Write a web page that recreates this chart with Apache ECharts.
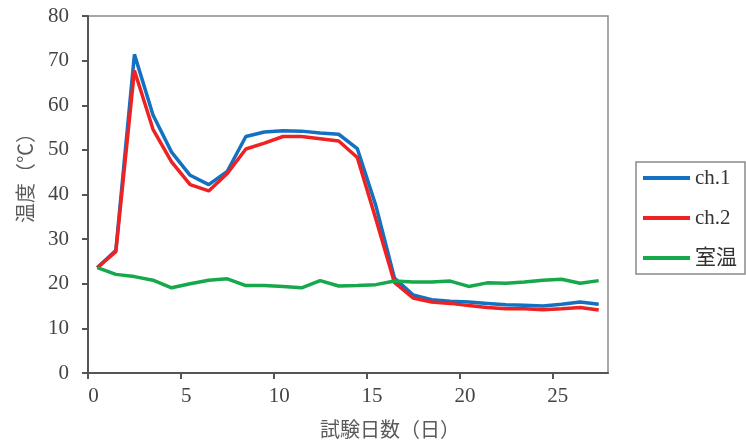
<!DOCTYPE html>
<html>
<head>
<meta charset="utf-8">
<script src="https://cdn.jsdelivr.net/npm/echarts@6/dist/echarts.min.js"></script>
<style>
html,body{margin:0;padding:0;background:#fff;}
#chart{width:746px;height:446px;}
</style>
</head>
<body>
<div id="chart"></div>
<script>
const days = [0.5,1.5,2.5,3.5,4.5,5.5,6.5,7.5,8.5,9.5,10.5,11.5,12.5,13.5,14.5,15.5,16.5,17.5,18.5,19.5,20.5,21.5,22.5,23.5,24.5,25.5,26.5,27.5];
const ch1 = [23.6,27.5,71.4,57.8,49.5,44.3,42.2,45.2,53.0,54.0,54.3,54.2,53.8,53.5,50.3,37.5,21.3,17.5,16.4,16.1,15.9,15.6,15.3,15.2,15.0,15.4,15.9,15.4];
const ch2 = [23.6,27.2,67.8,54.6,47.3,42.2,40.8,44.7,50.2,51.5,53.0,53.0,52.5,52.0,48.3,34.5,20.3,16.8,15.9,15.6,15.1,14.7,14.4,14.4,14.2,14.4,14.7,14.1];
const room = [23.6,22.1,21.6,20.8,19.1,20.0,20.8,21.1,19.6,19.6,19.4,19.1,20.7,19.5,19.6,19.8,20.6,20.4,20.4,20.6,19.4,20.2,20.1,20.4,20.8,21.0,20.1,20.7];
const seriesNames = ['ch.1','ch.2','室温'];
const xTitle = '試験日数（日）';
const yTitle = '温度（℃）';

const pair = arr => arr.map((v,i)=>[days[i], v]);
const colors = ['#1470c0','#ee2222','#16a84a'];
const serif = "'Liberation Serif','Noto Sans CJK JP',serif";
const cjk = "'Noto Sans CJK JP',sans-serif";

const chart = echarts.init(document.getElementById('chart'), null, {renderer:'canvas'});
chart.setOption({
  animation:false,
  color: colors,
  grid:{left:88,right:138,top:16,bottom:73,show:true,borderColor:'#8a8a8a',borderWidth:1.5,backgroundColor:'transparent'},
  legend:{
    orient:'vertical',left:636,top:162,
    data:seriesNames,
    icon:'rect',itemWidth:47,itemHeight:4,itemGap:18,
    padding:[5,8,5,7],
    borderColor:'#8a8a8a',borderWidth:1.5,
    textStyle:{fontFamily:serif,fontSize:21,color:'#333',lineHeight:22}
  },
  xAxis:{
    type:'value',min:0,max:28,interval:5,
    name:xTitle,nameLocation:'middle',nameGap:46,
    nameTextStyle:{fontFamily:cjk,fontSize:20,color:'#5a5a5a',padding:[0,0,0,84]},
    axisLine:{show:true,lineStyle:{color:'#555',width:2}},
    axisTick:{show:true,inside:false,length:6,lineStyle:{color:'#555',width:2}},
    axisLabel:{fontFamily:serif,fontSize:21,color:'#444',margin:13,showMaxLabel:false,padding:[0,0,0,11]},
    splitLine:{show:false}
  },
  yAxis:{
    type:'value',min:0,max:80,interval:10,
    name:yTitle,nameLocation:'middle',nameGap:53,
    nameTextStyle:{fontFamily:cjk,fontSize:20,color:'#5a5a5a',padding:[0,0,0,43]},
    axisLine:{show:true,lineStyle:{color:'#555',width:2}},
    axisTick:{show:true,inside:false,length:6,lineStyle:{color:'#555',width:2}},
    axisLabel:{fontFamily:serif,fontSize:21,color:'#444',margin:19},
    splitLine:{show:false}
  },
  series:[
    {name:seriesNames[0],type:'line',data:pair(ch1),showSymbol:false,symbol:'none',lineStyle:{width:3.5,color:colors[0]}},
    {name:seriesNames[1],type:'line',data:pair(ch2),showSymbol:false,symbol:'none',lineStyle:{width:3.5,color:colors[1]}},
    {name:seriesNames[2],type:'line',data:pair(room),showSymbol:false,symbol:'none',lineStyle:{width:3.5,color:colors[2]}}
  ]
});
</script>
</body>
</html>
